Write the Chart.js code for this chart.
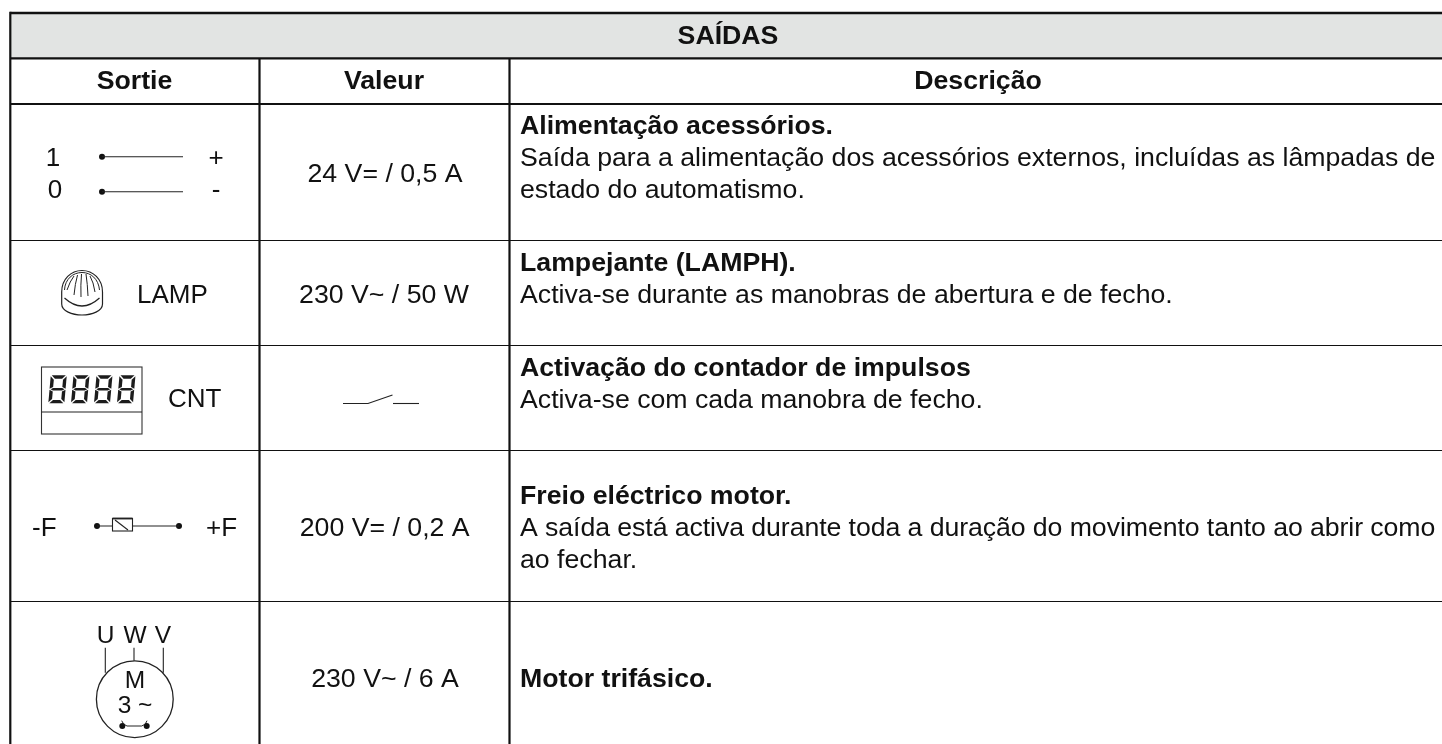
<!DOCTYPE html>
<html><head><meta charset="utf-8">
<style>html,body{margin:0;padding:0;background:#fff}canvas{display:block}</style>
<script src="https://cdn.jsdelivr.net/npm/chart.js@4"></script>
</head><body><canvas id="c" width="1442" height="744"></canvas>
<script>
// content
const tableTitle = "SAÍDAS";
const columnHeads = ["Sortie", "Valeur", "Descrição"];
const outputValues = ["24 V= / 0,5 A", "230 V~ / 50 W", "", "200 V= / 0,2 A", "230 V~ / 6 A"];
const descTitles = ["Alimentação acessórios.", "Lampejante (LAMPH).", "Activação do contador de impulsos", "Freio eléctrico motor.", "Motor trifásico."];
const descBodies = [
  ["Saída para a alimentação dos acessórios externos, incluídas as lâmpadas de", "estado do automatismo."],
  ["Activa-se durante as manobras de abertura e de fecho."],
  ["Activa-se com cada manobra de fecho."],
  ["A saída está activa durante toda a duração do movimento tanto ao abrir como", "ao fechar."],
  []
];
const symbolLabels = ["1", "0", "+", "-", "LAMP", "CNT", "-F", "+F", "U", "W", "V", "M", "3 ~"];
// table rules, in the picture's own units
const colEdges = [10.3, 259.5, 509.5, 1442];
const rowEdges = [13, 58.3, 104, 240.5, 345.5, 450.5, 601.5, 744];

const INK = "#111", TXT = "#111", F = '"Liberation Sans"';
function rule(x1, y1, x2, y2, w) {
  return {type:"line", data:[{x:x1,y:y1},{x:x2,y:y2}], borderColor:INK, borderWidth:w, pointRadius:0, parsing:false, order:1};
}
const datasets = [
  {type:"line", data:[{x:colEdges[0],y:rowEdges[0]},{x:colEdges[3],y:rowEdges[0]}],
   borderWidth:0, pointRadius:0, fill:{value:rowEdges[1]}, backgroundColor:"#e2e4e3", parsing:false, order:5},
  rule(colEdges[0],rowEdges[0],colEdges[3],rowEdges[0],2.4),
  rule(colEdges[0],rowEdges[1],colEdges[3],rowEdges[1],2.2),
  rule(colEdges[0],rowEdges[2],colEdges[3],rowEdges[2],2.2),
  rule(colEdges[0],rowEdges[3],colEdges[3],rowEdges[3],1.2),
  rule(colEdges[0],rowEdges[4],colEdges[3],rowEdges[4],1.2),
  rule(colEdges[0],rowEdges[5],colEdges[3],rowEdges[5],1.2),
  rule(colEdges[0],rowEdges[6],colEdges[3],rowEdges[6],1.2),
  rule(colEdges[0],rowEdges[0]-1.2,colEdges[0],rowEdges[7],2.2),
  rule(colEdges[1],rowEdges[1],colEdges[1],rowEdges[7],2.2),
  rule(colEdges[2],rowEdges[1],colEdges[2],rowEdges[7],2.2),
];

const drawer = {
  id:"tableDrawer",
  afterDatasetsDraw(chart){
    const c = chart.ctx, X = v => chart.scales.x.getPixelForValue(v), Y = v => chart.scales.y.getPixelForValue(v);
    c.save();
    function text(s,x,y,bold,align,size){
      c.font=(bold?"bold ":"")+(size||26.7)+"px "+F; c.fillStyle=TXT; c.textAlign=align||"left"; c.textBaseline="alphabetic";
      c.fillText(s,X(x),Y(y));
    }
    function line(pts,w,col){
      c.beginPath(); pts.forEach((p,i)=> i?c.lineTo(X(p[0]),Y(p[1])):c.moveTo(X(p[0]),Y(p[1])));
      c.lineWidth=w||1.1; c.strokeStyle=col||"#222"; c.stroke();
    }
    function dot(x,y,r){ c.beginPath(); c.arc(X(x),Y(y),r||3,0,Math.PI*2); c.fillStyle="#111"; c.fill(); }

    // headings
    text(tableTitle,728,44.3,true,"center");
    text(columnHeads[0],134.5,89,true,"center");
    text(columnHeads[1],384,89,true,"center");
    text(columnHeads[2],978,89,true,"center");

    // values
    text(outputValues[0],385,182,false,"center");
    text(outputValues[1],384,303,false,"center");
    text(outputValues[3],384.7,536,false,"center");
    text(outputValues[4],385,687,false,"center");

    // descriptions
    const tops=[134,270.7,376,504,686.7];
    descTitles.forEach((t,i)=>{
      text(t,520,tops[i],true);
      descBodies[i].forEach((b,j)=>{
        c.letterSpacing = (i===3&&j===0) ? "-0.08px" : "0px";
        text(b,520,tops[i]+31.8*(j+1),false);
        c.letterSpacing = "0px";
      });
    });

    // row 1 symbol
    text(symbolLabels[0],53,166,false,"center",26);
    text(symbolLabels[1],55,198,false,"center",26);
    text(symbolLabels[2],216,166,false,"center",26);
    text(symbolLabels[3],216,198,false,"center",26);
    dot(102,156.7); line([[102,156.7],[183,156.7]]);
    dot(102,191.7); line([[102,191.7],[183,191.7]]);

    // lamp
    text(symbolLabels[4],137,303,false,"left",26);
    c.beginPath();
    c.moveTo(X(61.7),Y(304));
    c.lineTo(X(61.7),Y(292));
    c.bezierCurveTo(X(61.7),Y(279),X(71),Y(270.5),X(82),Y(270.5));
    c.bezierCurveTo(X(93),Y(270.5),X(102.5),Y(279),X(102.5),Y(292));
    c.lineTo(X(102.5),Y(304));
    c.bezierCurveTo(X(102.5),Y(311),X(92),Y(315),X(82),Y(315));
    c.bezierCurveTo(X(72),Y(315),X(61.7),Y(311),X(61.7),Y(304));
    c.lineWidth=1.2; c.strokeStyle="#222"; c.stroke();
    c.beginPath(); c.moveTo(X(64.5),Y(298)); c.quadraticCurveTo(X(82),Y(314),X(99.5),Y(298)); c.stroke();
    c.beginPath(); c.moveTo(X(64.5),Y(290)); c.bezierCurveTo(X(65),Y(279),X(73),Y(272.5),X(82),Y(272.5)); c.bezierCurveTo(X(91),Y(272.5),X(98.5),Y(279),X(99.5),Y(290)); c.lineWidth=1; c.stroke();
    [[67,290,70,281,74,276],[74,295,75,284,77.5,275],[81,297,80.5,285,81.5,274],[88,296,87.5,284,86,274],[95,292,93.5,282,90,276]].forEach(s=>{
      c.beginPath(); c.moveTo(X(s[0]),Y(s[1])); c.quadraticCurveTo(X(s[2]),Y(s[3]),X(s[4]),Y(s[5])); c.lineWidth=1; c.stroke();
    });

    // counter
    c.strokeStyle="#333"; c.lineWidth=1.1;
    c.strokeRect(X(41.5),Y(367),X(142)-X(41.5),Y(434)-Y(367));
    line([[41.5,412],[142,412]]);
    [48.3,71,94,117].forEach(x0=>{
      const w=16,h=28,t=3.4,sl=2.5,top=375.3;
      const polys=[
        [[1,0],[w-1,0],[w-1-t,t],[1+t,t]],
        [[1,h],[w-1,h],[w-1-t,h-t],[1+t,h-t]],
        [[0,1],[t,1+t],[t,h/2-t/2-0.5],[0,h/2-0.5]],
        [[w,1],[w-t,1+t],[w-t,h/2-t/2-0.5],[w,h/2-0.5]],
        [[0,h/2+0.5],[t,h/2+t/2+0.5],[t,h-1-t],[0,h-1]],
        [[w,h/2+0.5],[w-t,h/2+t/2+0.5],[w-t,h-1-t],[w,h-1]],
        [[1,h/2],[t,h/2-t/2+0.4],[w-t,h/2-t/2+0.4],[w-1,h/2],[w-t,h/2+t/2-0.4],[t,h/2+t/2-0.4]]
      ];
      c.fillStyle="#1c1c1c";
      polys.forEach(p=>{
        c.beginPath();
        p.forEach((q,i)=>{
          const px=X(x0+q[0]+sl*(1-q[1]/h)), py=Y(top+q[1]);
          i?c.lineTo(px,py):c.moveTo(px,py);
        });
        c.closePath(); c.fill();
      });
    });
    text(symbolLabels[5],168,407,false,"left",26);

    // switch contact
    line([[343,403.5],[368,403.5],[392.5,395]]);
    line([[393,403.5],[419,403.5]]);

    // brake
    text(symbolLabels[6],32,536,false,"left",26);
    text(symbolLabels[7],206,536,false,"left",26);
    dot(97,526); dot(179,526);
    line([[97,526],[179,526]]);
    c.fillStyle="#fff"; c.fillRect(X(112.5),Y(518.5),20,12.5);
    c.strokeStyle="#222"; c.lineWidth=1.1; c.strokeRect(X(112.5),Y(518.5),20,12.5);
    line([[112.5,518.5],[132.5,518.5]],1.8);
    line([[115,520],[128,530]]);

    // motor
    text(symbolLabels[8],105.7,643,false,"center",24.5);
    text(symbolLabels[9],135,643,false,"center",24.5);
    text(symbolLabels[10],163,643,false,"center",24.5);
    line([[105.3,647.7],[105.3,672.7]]);
    line([[134,647.7],[134,660.7]]);
    line([[163.3,647.7],[163.3,672.7]]);
    c.beginPath(); c.arc(X(134.8),Y(699.2),38.4,0,Math.PI*2); c.lineWidth=1.3; c.strokeStyle="#222"; c.stroke();
    text(symbolLabels[11],135,688,false,"center",24.5);
    text(symbolLabels[12],135,713,false,"center",24.5);
    dot(122.3,726); dot(146.7,726);
    c.beginPath(); c.moveTo(X(121.7),Y(720.7)); c.quadraticCurveTo(X(123),Y(725),X(127),Y(726)); c.lineTo(X(141.7),Y(726)); c.quadraticCurveTo(X(146),Y(725),X(147),Y(720.7));
    c.lineWidth=1; c.stroke();
    c.restore();
  }
};

new Chart(document.getElementById("c"), {
  type:"line",
  data:{datasets},
  options:{
    responsive:false, animation:false, events:[],
    layout:{padding:0},
    plugins:{legend:{display:false},tooltip:{enabled:false},title:{display:false}},
    scales:{
      x:{type:"linear",min:0,max:1442,display:false},
      y:{type:"linear",min:0,max:744,reverse:true,display:false}
    },
    elements:{line:{tension:0,borderCapStyle:"butt"}},
    clip:false
  },
  plugins:[drawer]
});
</script></body></html>
